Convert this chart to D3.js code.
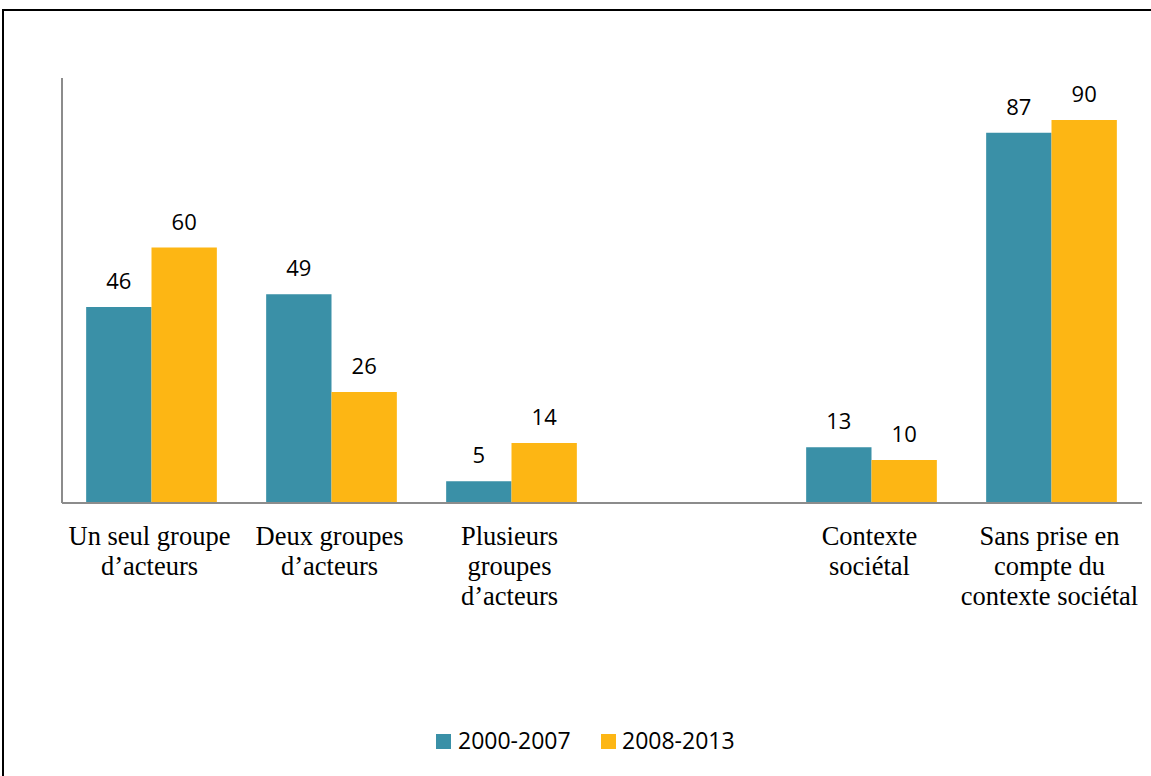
<!DOCTYPE html>
<html>
<head>
<meta charset="utf-8">
<script src="https://cdn.jsdelivr.net/npm/d3@7"></script>
<style>
  html, body { margin: 0; padding: 0; background: #fff; }
  svg { display: block; }
</style>
</head>
<body>
<svg id="chart" width="1151" height="776"></svg>
<script>
// ---- data ----
const categories = ["Un seul groupe d’acteurs", "Deux groupes d’acteurs", "Plusieurs groupes d’acteurs", "", "Contexte sociétal", "Sans prise en compte du contexte sociétal"];
const categoryLines = [
  ["Un seul groupe", "d’acteurs"],
  ["Deux groupes", "d’acteurs"],
  ["Plusieurs", "groupes", "d’acteurs"],
  [],
  ["Contexte", "sociétal"],
  ["Sans prise en", "compte du", "contexte sociétal"]
];
const seriesNames = ["2000-2007", "2008-2013"];
const values2000_2007 = [46, 49, 5, null, 13, 87];
const values2008_2013 = [60, 26, 14, null, 10, 90];
const seriesValues = [values2000_2007, values2008_2013];
const colors = ["#3A90A7", "#FDB614"];

// ---- layout ----
const svg = d3.select("#chart");
const plotLeft = 61.5, plotRight = 1141.5, plotTop = 77.5, plotBottom = 502.5;

// frame
svg.append("rect")
  .attr("x", 3).attr("y", 10).attr("width", 1170).attr("height", 800)
  .attr("fill", "none").attr("stroke", "#000").attr("stroke-width", 2);

const x = d3.scaleBand()
  .domain(d3.range(categories.length))
  .range([plotLeft, plotRight])
  .paddingInner(0.274)
  .paddingOuter(0.137);

const xs = d3.scaleBand()
  .domain(d3.range(seriesNames.length))
  .range([0, x.bandwidth()])
  .padding(0);

const y = d3.scaleLinear().domain([0, 100]).range([plotBottom, plotTop]);

// bars
seriesValues.forEach((vals, si) => {
  const g = svg.append("g");
  const items = vals.map((v, i) => ({ i, v })).filter(d => d.v != null);
  g.selectAll("rect").data(items).join("rect")
    .attr("x", d => x(d.i) + xs(si))
    .attr("y", d => y(d.v))
    .attr("width", xs.bandwidth())
    .attr("height", d => y(0) - y(d.v))
    .attr("fill", colors[si]);
  g.selectAll("text").data(items).join("text")
    .attr("x", d => x(d.i) + xs(si) + xs.bandwidth() / 2)
    .attr("y", d => y(d.v) - 18)
    .attr("text-anchor", "middle")
    .attr("font-family", "'Open Sans', sans-serif")
    .attr("font-size", 22)
    .attr("fill", "#000")
    .text(d => d.v);
});

// axes lines
const yAxis = d3.axisLeft(y).tickValues([]).tickSizeOuter(0);
svg.append("g").attr("transform", `translate(${plotLeft},0)`).call(yAxis)
  .call(g => g.select(".domain").attr("stroke", "#8c8c8c").attr("stroke-width", 2));
const xAxis = d3.axisBottom(x).tickValues([]).tickSizeOuter(0);
svg.append("g").attr("transform", `translate(0,${plotBottom})`).call(xAxis)
  .call(g => g.select(".domain").attr("stroke", "#8c8c8c").attr("stroke-width", 2));

// category labels
categoryLines.forEach((lines, i) => {
  const t = svg.append("text")
    .attr("text-anchor", "middle")
    .attr("font-family", "'Liberation Serif', 'Times New Roman', serif")
    .attr("font-size", 26.5)
    .attr("fill", "#000");
  lines.forEach((ln, k) => {
    t.append("tspan")
      .attr("x", x(i) + x.bandwidth() / 2 - 2)
      .attr("y", plotBottom + 42.5 + k * 30)
      .text(ln);
  });
});

// legend
const legendItems = [{ x: 436, tx: 458 }, { x: 601, tx: 622 }];
seriesNames.forEach((name, si) => {
  svg.append("rect")
    .attr("x", legendItems[si].x).attr("y", 734)
    .attr("width", 15).attr("height", 15)
    .attr("fill", colors[si]);
  svg.append("text")
    .attr("x", legendItems[si].tx).attr("y", 748.5)
    .attr("font-family", "'Open Sans', sans-serif")
    .attr("font-size", 23)
    .attr("fill", "#000")
    .text(name);
});
</script>
</body>
</html>
